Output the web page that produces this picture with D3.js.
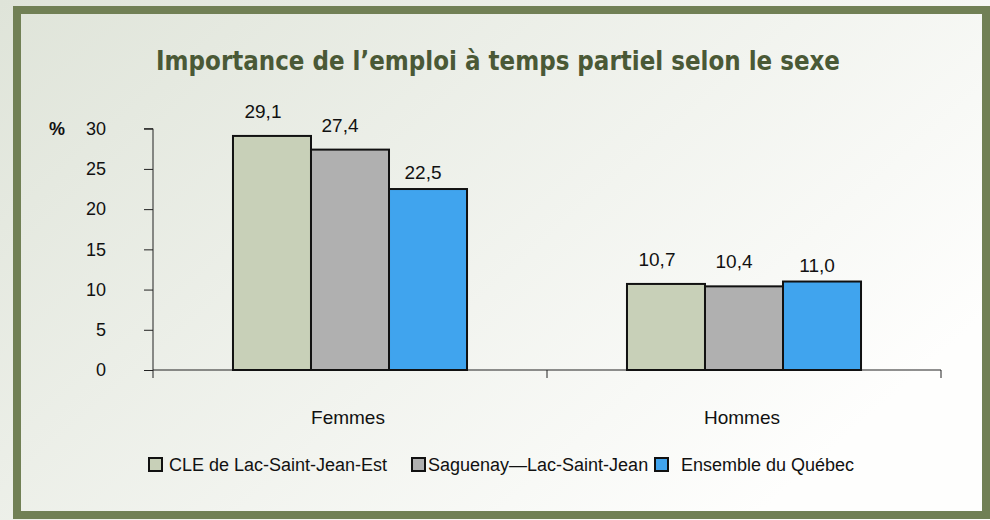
<!DOCTYPE html>
<html>
<head>
<meta charset="utf-8">
<script src="https://cdn.jsdelivr.net/npm/d3@7"></script>
<style>
  body { margin: 0; }
  svg { display: block; }
  text { font-family: "Liberation Sans Narrow", "Arial Narrow", "Liberation Sans", sans-serif; fill: #111; }
  .title { font-family: "DejaVu Sans Condensed", "DejaVu Sans", sans-serif; font-weight: bold; fill: #4a5936; }
</style>
</head>
<body>
<svg width="990" height="520"></svg>
<script>
const categories = ['Femmes', 'Hommes'];
const series = ['CLE de Lac-Saint-Jean-Est', 'Saguenay\u2014Lac-Saint-Jean', 'Ensemble du Québec'];
const valuesFemmes = [29.1, 27.4, 22.5];
const valuesHommes = [10.7, 10.4, 11.0];
const yTicks = [0, 5, 10, 15, 20, 25, 30];
const colors = ['#c8d0b8', '#b0b0b0', '#40a4ee'];

const data = categories.map((c, i) => ({
  category: c,
  values: (i === 0 ? valuesFemmes : valuesHommes).map((v, j) => ({ key: series[j], idx: j, value: v }))
}));

const svg = d3.select('svg');
const fmt = v => d3.format('.1f')(v).replace('.', ',');

// background gradient + frame
const defs = svg.append('defs');
const grad = defs.append('linearGradient').attr('id', 'bg')
  .attr('x1', '0%').attr('y1', '0%').attr('x2', '100%').attr('y2', '60%');
grad.append('stop').attr('offset', '0%').attr('stop-color', '#dfe4d9');
grad.append('stop').attr('offset', '100%').attr('stop-color', '#fefefd');
svg.append('rect').attr('width', 990).attr('height', 520).attr('fill', 'url(#bg)');
svg.append('rect')
  .attr('x', 17).attr('y', 10).attr('width', 969).attr('height', 505)
  .attr('fill', 'none').attr('stroke', '#718055').attr('stroke-width', 8);

svg.append('text').attr('class', 'title')
  .attr('x', 498).attr('y', 70)
  .attr('text-anchor', 'middle')
  .attr('font-size', 26)
  .attr('textLength', 684).attr('lengthAdjust', 'spacingAndGlyphs')
  .text('Importance de l\u2019emploi à temps partiel selon le sexe');

const plotLeft = 153, plotRight = 941, plotTop = 128.7, plotBottom = 370;

const x = d3.scaleBand().domain(categories).range([plotLeft, plotRight]);
const bw = x.bandwidth();
const xs = d3.scaleBand().domain(series).range([bw * 0.203, bw * 0.797]);
const y = d3.scaleLinear().domain([0, 30]).range([plotBottom, plotTop]);

// y axis
const yAxis = svg.append('g')
  .attr('transform', `translate(${plotLeft},0)`)
  .call(d3.axisLeft(y).tickValues(yTicks).tickSize(9).tickPadding(38));
yAxis.select('.domain').attr('d', `M-9,${plotTop}H0V${plotBottom + 8}`).attr('stroke', '#222');
yAxis.selectAll('.tick line').attr('stroke', '#222');
yAxis.selectAll('.tick text').attr('font-size', 18).attr('fill', '#111')
  .attr('font-family', '"Liberation Sans Narrow", "Arial Narrow", sans-serif');

svg.append('text').attr('x', 57).attr('y', 135).attr('text-anchor', 'middle')
  .attr('font-size', 18).attr('font-weight', 'bold').text('%');

// x axis
const xAxis = svg.append('g').attr('transform', `translate(0,${plotBottom})`);
xAxis.append('line').attr('x1', plotLeft).attr('x2', plotRight).attr('stroke', '#222');
xAxis.selectAll('.xt').data(categories.slice(1).map(c => x(c)).concat([plotRight]))
  .enter().append('line').attr('class', 'xt')
  .attr('x1', d => d).attr('x2', d => d).attr('y1', 0).attr('y2', 8).attr('stroke', '#222');
xAxis.selectAll('.xl').data(categories).enter().append('text').attr('class', 'xl')
  .attr('x', d => x(d) + bw / 2 - 2).attr('y', 54)
  .attr('text-anchor', 'middle').attr('font-size', 19).text(d => d);

// bars
const grp = svg.selectAll('.grp').data(data).enter().append('g')
  .attr('class', 'grp')
  .attr('transform', d => `translate(${x(d.category)},0)`);

grp.selectAll('rect').data(d => d.values).enter().append('rect')
  .attr('x', d => xs(d.key))
  .attr('y', d => y(d.value))
  .attr('width', xs.bandwidth())
  .attr('height', d => y(0) - y(d.value))
  .attr('fill', d => colors[d.idx])
  .attr('stroke', '#111').attr('stroke-width', 2);

const labelDx = [-9, -10, -5];
const labelDy = [18, 18, 10];
grp.selectAll('.val').data(d => d.values).enter().append('text').attr('class', 'val')
  .attr('x', d => xs(d.key) + xs.bandwidth() / 2 + labelDx[d.idx])
  .attr('y', d => y(d.value) - labelDy[d.idx])
  .attr('text-anchor', 'middle').attr('font-size', 19)
  .text(d => fmt(d.value));

// legend
const legendX = [149, 412, 655];
const leg = svg.selectAll('.leg').data(series).enter().append('g')
  .attr('class', 'leg')
  .attr('transform', (d, i) => `translate(${legendX[i]},458)`);
leg.append('rect').attr('width', 13).attr('height', 13)
  .attr('fill', (d, i) => colors[i]).attr('stroke', '#111').attr('stroke-width', 2);
leg.append('text').attr('x', (d, i) => [20, 16, 26][i]).attr('y', 13)
  .attr('font-size', 18).text(d => d);
</script>
</body>
</html>
